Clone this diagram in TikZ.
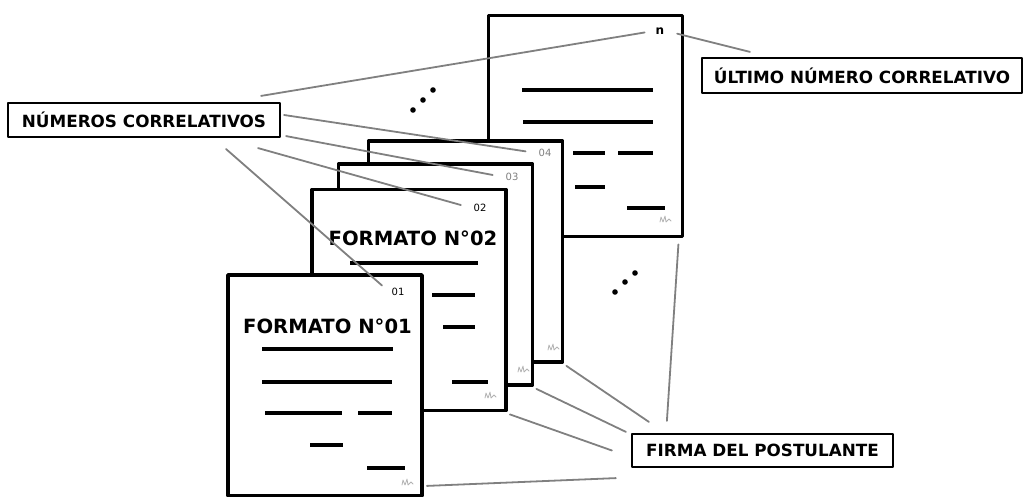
\documentclass[tikz,border=0pt]{standalone}
\usepackage{fontspec}
\setmainfont{DejaVu Sans}
\begin{document}
\begin{tikzpicture}[x=1pt,y=-1pt,line cap=round,line join=round,
	hoja/.style={draw=black,line width=3.8pt,fill=white,minimum width=194pt,minimum height=221pt,inner sep=0pt},
	rotulo/.style={draw=black,line width=2.2pt,fill=white,minimum height=34pt,inner sep=0pt,font=\bfseries\fontsize{16.8}{18}\selectfont},
	numero/.style={inner sep=2pt,font=\fontsize{10}{10}\selectfont},
	titulo/.style={inner sep=0pt,font=\bfseries\fontsize{19.6}{20}\selectfont},
	guia/.style={draw=gray,line width=1.8pt},
	renglon/.style={line width=4.5pt,line cap=butt},
	firma/.style={draw=gray!60,line width=0.8pt}]
	\useasboundingbox (0,0) rectangle (1024,497);
	% hojas, de atras hacia adelante
	\node[hoja] (hn) at (585.5,126) {};
	\node[hoja] (h04) at (465.5,251.5) {};
	\node[hoja] (h03) at (435.5,274.5) {};
	\node[hoja] (h02) at (409,300) {};
	\node[hoja] (h01) at (325,385.5) {};
	% numeros
	\node[numero,font=\bfseries\fontsize{12}{12}\selectfont] (nn) at (660,31) {n};
	\node[numero,text=gray] (n04) at (545,153) {04};
	\node[numero,text=gray] (n03) at (512,177) {03};
	\node[numero] (n02) at (480,208) {02};
	\node[numero] (n01) at (398,292) {01};
	\node[titulo] (f02) at (413,238) {FORMATO N°02};
	\node[titulo] (f01) at (327.5,326) {FORMATO N°01};
	% renglones
	\foreach \a/\b/\y in {522/653/90,523/653/122,573/605/153,618/653/153,575/605/187,627/665/208,
		350/478/263,432/475/295,443/475/327,452/488/382,
		262/393/349,262/392/382,265/342/413,358/392/413,310/343/445,367/405/468}
	\draw[renglon] (\a,\y) -- (\b,\y);
	% firmas
	\foreach \x/\y in {665/220,553/348,523/370,490/396,407/483}
	\draw[firma,shift={(\x,\y)}] (-5,2) -- (-4,-3) -- (-2,2) -- (0,-4) -- (1,2) -- (4,-1) -- (6,1);
	% puntos suspensivos
	\foreach \x/\y in {413/110,423/100,433/90,615/292,625/282,635/273}
	\fill (\x,\y) circle (2.8pt);
	% rotulos
	\node[rotulo,minimum width=272pt] (numlab) at (144,120) {NÚMEROS CORRELATIVOS};
	\node[rotulo,minimum width=320pt,minimum height=35pt] (ultlab) at (862,75.5) {ÚLTIMO NÚMERO CORRELATIVO};
	\node[rotulo,minimum width=261pt,minimum height=33pt] (firmalab) at (762.5,450.5) {FIRMA DEL POSTULANTE};
	% guias
	\draw[guia,shorten >=9pt] ([shift={(-20,-6)}]numlab.north east) -- (nn.west);
	\draw[guia,shorten >=11pt] ([shift={(3,-5)}]numlab.east) -- (n04.west);
	\draw[guia,shorten >=11pt] ([shift={(5,-2)}]numlab.south east) -- (n03.west);
	\draw[guia,shorten >=11pt] ([shift={(-23,10)}]numlab.south east) -- (n02.west);
	\draw[guia,shorten >=10pt] ([shift={(-55,11)}]numlab.south east) -- (n01.west);
	\draw[guia,shorten >=11pt] ([shift={(49,-5)}]ultlab.north west) -- (nn.east);
	\draw[guia] ([shift={(36,-12)}]firmalab.north west) -- ([shift={(-6,6)}]hn.south east);
	\draw[guia] ([shift={(18,-11)}]firmalab.north west) -- ([shift={(2,2)}]h04.south east);
	\draw[guia] ([shift={(-5,-1)}]firmalab.north west) -- ([shift={(2,2)}]h03.south east);
	\draw[guia] ([shift={(-19,0)}]firmalab.west) -- ([shift={(2,2)}]h02.south east);
	\draw[guia] ([shift={(-15,10)}]firmalab.south west) -- ([shift={(3,-12)}]h01.south east);
\end{tikzpicture}
\end{document}
